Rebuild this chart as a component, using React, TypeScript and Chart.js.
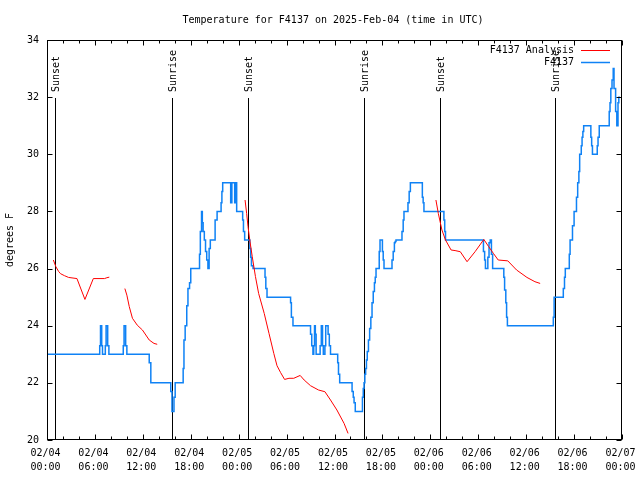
import { useEffect, useRef } from "react";
import { Chart, registerables } from "chart.js";

Chart.register(...registerables);

const TITLE = "Temperature for F4137 on 2025-Feb-04 (time in UTC)";
const Y_TITLE = "degrees F";
const FONT_FAMILY = "'DejaVu Sans Mono', 'Liberation Mono', monospace";

// hours since 02/04 00:00 UTC
const X_TICK_HOURS = [0, 6, 12, 18, 24, 30, 36, 42, 48, 54, 60, 66, 72];
const X_TICK_DATES = ["02/04", "02/04", "02/04", "02/04", "02/05", "02/05", "02/05", "02/05", "02/06", "02/06", "02/06", "02/06", "02/07"];
const X_TICK_TIMES = ["00:00", "06:00", "12:00", "18:00", "00:00", "06:00", "12:00", "18:00", "00:00", "06:00", "12:00", "18:00", "00:00"];
const Y_TICKS = [20, 22, 24, 26, 28, 30, 32, 34];

const EVENT_HOURS = [1.0, 15.62, 25.13, 39.7, 49.23, 63.65];
const EVENT_LABELS = ["Sunset", "Sunrise", "Sunset", "Sunrise", "Sunset", "Sunrise"];

const SERIES_LABELS = ["F4137 Analysis", "F4137"];
const SERIES_COLORS = ["#ff0000", "rgb(15,130,245)"];

// Analysis (red), null = gap
const ANA_HOURS = [
  0.8, 1.1, 1.45, 1.7, 2.2, 2.7, 3.75, 4.75, 5.8, 7.2, 7.5, 7.8,
  8.8,
  9.75, 10.0, 10.3, 10.7, 11.3, 11.95, 12.8, 13.4, 13.8,
  19.0,
  24.8, 25.0, 25.17, 25.42, 25.7, 26.1, 26.5, 27.2, 27.8, 28.4, 28.8, 29.25, 29.75, 30.3, 30.9, 31.7, 32.2, 33.0, 34.0, 34.8, 35.5, 36.3, 37.2, 37.7,
  43.0,
  48.7, 49.0, 49.45, 49.9, 50.6, 51.1, 51.75, 52.6, 53.6, 54.7, 55.3, 55.9, 56.5, 57.7, 58.8, 60.1, 61.1, 61.75,
];
const ANA_TEMPS = [
  26.3, 26.07, 25.9, 25.82, 25.75, 25.69, 25.65, 24.92, 25.65, 25.65, 25.68, 25.7,
  null,
  25.3, 25.07, 24.67, 24.26, 24.02, 23.85, 23.5, 23.38, 23.35,
  null,
  28.4, 27.93, 27.47, 26.94, 26.42, 25.72, 25.13, 24.43, 23.73, 23.03, 22.6, 22.36, 22.12, 22.16, 22.16, 22.26, 22.1, 21.9, 21.75, 21.69, 21.4, 21.05, 20.58, 20.23,
  null,
  28.4, 27.93, 27.35, 27.0, 26.65, 26.63, 26.59, 26.24, 26.59, 27.02, 26.77, 26.53, 26.3, 26.27, 25.95, 25.69, 25.54, 25.48,
];

// Observations (blue), value holds from each hour to the next
const OBS_HOURS = [
  0, 6.6, 6.7, 6.85, 6.95, 7.3, 7.4, 7.6, 7.75, 9.55, 9.65, 9.85, 10.0,
  12.8, 13.0, 15.5, 15.65, 15.9, 16.05,
  17.05, 17.15, 17.3, 17.5, 17.65, 17.85, 18.0,
  19.1, 19.2, 19.35, 19.45, 19.55, 19.7, 19.85, 20.0, 20.15, 20.3, 20.45,
  21.05, 21.3, 21.8, 21.9, 22.0, 23.0, 23.15, 23.5, 23.6, 23.75,
  24.5, 24.6, 24.75, 25.4, 25.5, 25.6, 25.8,
  27.3, 27.4, 27.55, 30.5, 30.6, 30.8,
  33.0, 33.15, 33.3, 33.4, 33.5, 33.6, 33.7, 34.2, 34.35, 34.5, 34.6, 34.8, 34.9, 35.2, 35.35, 35.5,
  36.4, 36.5, 36.65, 38.2, 38.35, 38.45, 38.6,
  39.5, 39.6, 39.7, 39.8, 39.9, 40.0, 40.1, 40.25, 40.4, 40.55, 40.7, 40.85, 41.0, 41.1, 41.2,
  41.6, 41.7, 42.0, 42.1, 42.2, 43.2, 43.35, 43.5, 43.6, 43.7,
  44.45, 44.6, 44.7, 45.2, 45.35, 45.5, 47.0, 47.1, 47.2,
  49.7, 49.8, 49.9, 54.65, 54.8, 54.9, 55.2, 55.35, 55.5, 55.65, 55.8,
  57.2, 57.3, 57.45, 57.55, 57.65, 63.4, 63.5,
  64.65, 64.8, 64.9, 65.4, 65.5, 65.8, 66.0, 66.3, 66.45, 66.6, 66.7, 66.9, 67.0, 67.1, 67.2,
  68.1, 68.2, 68.3, 68.9, 69.0, 69.15,
  70.4, 70.5, 70.6, 70.75, 70.9, 71.0, 71.2, 71.35, 71.5, 71.6, 71.75,
];
const OBS_TEMPS = [
  23, 23.3, 24, 23.3, 23, 23.3, 24, 23.3, 23, 23.3, 24, 23.3, 23,
  22.7, 22, 21.7, 21, 21.5, 22,
  22.5, 23.5, 24, 24.7, 25.3, 25.5, 26,
  26.5, 27.3, 28, 27.6, 27.3, 27, 26.6, 26.3, 26, 26.7, 27,
  27.7, 28, 28.3, 28.7, 29, 28.3, 29, 28.3, 29, 28,
  27.7, 27.3, 27, 26.7, 26.4, 26.1, 26,
  25.7, 25.3, 25, 24.8, 24.3, 24,
  23.7, 23.3, 23, 23.3, 24, 23.7, 23, 23.3, 24, 23.3, 23, 23.3, 24, 23.7, 23.3, 23,
  22.7, 22.3, 22, 21.7, 21.5, 21.3, 21,
  21.5, 21.8, 22, 22.3, 22.5, 22.8, 23.1, 23.5, 23.9, 24.3, 24.8, 25.2, 25.5, 25.7, 26,
  26.6, 27, 26.6, 26.3, 26, 26.3, 26.6, 26.9, 26.95, 27,
  27.3, 27.7, 28, 28.3, 28.7, 29, 28.5, 28.3, 28,
  27.7, 27.3, 27, 26.6, 26.3, 26, 26.4, 26.9, 27, 26.5, 26,
  25.7, 25.25, 24.8, 24.3, 24, 24.3, 25,
  25.3, 25.7, 26, 26.5, 27, 27.5, 28, 28.5, 29, 29.4, 30, 30.3, 30.6, 30.8, 31,
  30.6, 30.3, 30, 30.3, 30.6, 31,
  31.5, 31.8, 32.3, 32.6, 33, 32.3, 31.5, 31, 31.8, 32, 32,
];

const FONT = `10px ${FONT_FAMILY}`;

const decor = {
  id: "decor",
  beforeDatasetsDraw(chart: any) {
    const { ctx, chartArea: a, scales } = chart;
    const x = scales.x;
    ctx.save();
    ctx.strokeStyle = "#000";
    ctx.fillStyle = "#000";
    ctx.lineWidth = 1;
    ctx.font = FONT;
    EVENT_HOURS.forEach((h, i) => {
      const px = Math.round(x.getPixelForValue(h)) + 0.5;
      ctx.beginPath();
      ctx.moveTo(px, a.top + 58);
      ctx.lineTo(px, a.bottom);
      ctx.stroke();
      ctx.save();
      ctx.translate(px + 1, a.top + 52);
      ctx.rotate(-Math.PI / 2);
      ctx.textAlign = "left";
      ctx.textBaseline = "middle";
      ctx.fillText(EVENT_LABELS[i], 0, 0);
      ctx.restore();
    });
    ctx.restore();
  },
  afterDraw(chart: any) {
    const { ctx, chartArea: a, scales } = chart;
    const x = scales.x;
    const y = scales.y;
    ctx.save();
    ctx.strokeStyle = "#000";
    ctx.fillStyle = "#000";
    ctx.lineWidth = 1;
    const L = Math.round(a.left) + 0.5;
    const R = Math.round(a.right) - 0.5;
    const T = Math.round(a.top) + 0.5;
    const B = Math.round(a.bottom) - 0.5;
    ctx.strokeRect(L, T, R - L, B - T);
    ctx.beginPath();
    for (let h = 0; h <= 72; h += 2) {
      const px = Math.round(x.getPixelForValue(h)) + 0.5;
      const len = h % 6 === 0 ? 5 : 3;
      ctx.moveTo(px, B);
      ctx.lineTo(px, B - len);
      ctx.moveTo(px, T);
      ctx.lineTo(px, T + len);
    }
    Y_TICKS.forEach((v) => {
      const py = Math.round(y.getPixelForValue(v)) + 0.5;
      ctx.moveTo(L, py);
      ctx.lineTo(L + 5, py);
      ctx.moveTo(R, py);
      ctx.lineTo(R - 5, py);
    });
    ctx.stroke();

    ctx.font = FONT;
    ctx.textBaseline = "middle";
    ctx.textAlign = "center";
    // x tick labels
    X_TICK_HOURS.forEach((h, i) => {
      const px = x.getPixelForValue(h) - 1.5;
      ctx.fillText(X_TICK_DATES[i], px, a.bottom + 13);
      ctx.fillText(X_TICK_TIMES[i], px, a.bottom + 27);
    });

    ctx.fillText(TITLE, 333, 20);

    ctx.save();
    ctx.translate(10, (a.top + a.bottom) / 2);
    ctx.rotate(-Math.PI / 2);
    ctx.textAlign = "center";
    ctx.fillText(Y_TITLE, 0, 0);
    ctx.restore();

    // legend
    chart.data.datasets.forEach((ds: any, i: number) => {
      const ly = Math.round(a.top + 10 + i * 12) + 0.5;
      ctx.textAlign = "right";
      ctx.fillStyle = "#000";
      ctx.fillText(ds.label, a.right - 48, ly);
      ctx.strokeStyle = ds.borderColor;
      ctx.lineWidth = ds.borderWidth;
      ctx.beginPath();
      ctx.moveTo(a.right - 41, ly);
      ctx.lineTo(a.right - 12, ly);
      ctx.stroke();
    });
    ctx.restore();
  },
};

export default function App() {
  const ref = useRef<HTMLCanvasElement | null>(null);
  useEffect(() => {
    if (!ref.current) return;
    const chart = new Chart(ref.current, {
      type: "line",
      data: {
        datasets: [
          {
            label: SERIES_LABELS[0],
            data: ANA_HOURS.map((h, i) => ({ x: h, y: ANA_TEMPS[i] })) as any,
            borderColor: SERIES_COLORS[0],
            borderWidth: 1,
            pointRadius: 0,
            spanGaps: false,
            tension: 0,
          },
          {
            label: SERIES_LABELS[1],
            data: OBS_HOURS.map((h, i) => ({ x: h, y: OBS_TEMPS[i] })) as any,
            borderColor: SERIES_COLORS[1],
            borderWidth: 1.5,
            pointRadius: 0,
            stepped: true,
          },
        ],
      },
      options: {
        animation: false,
        responsive: false,
        maintainAspectRatio: false,
        layout: { padding: { top: 40, right: 18, left: 0, bottom: 0 } },
        plugins: {
          legend: { display: false },
          title: { display: false },
          tooltip: { enabled: false },
        },
        scales: {
          x: {
            type: "linear",
            min: 0,
            max: 72,
            ticks: { display: false, stepSize: 6 },
            grid: { display: false, drawTicks: false },
            border: { display: false },
            afterFit: (s: any) => {
              s.height = 40;
            },
          },
          y: {
            min: 20,
            max: 34,
            ticks: {
              stepSize: 2,
              padding: 8,
              color: "#000",
              font: { family: FONT_FAMILY, size: 10 },
            },
            grid: { display: false, drawTicks: false },
            border: { display: false },
            afterFit: (s: any) => {
              s.width = 47;
            },
          },
        },
      },
      plugins: [decor],
    });
    return () => chart.destroy();
  }, []);
  return (
    <div style={{ position: "absolute", left: 0, top: 0, width: 640, height: 480, background: "#fff" }}>
      <canvas ref={ref} width={640} height={480} style={{ width: 640, height: 480 }} />
    </div>
  );
}
